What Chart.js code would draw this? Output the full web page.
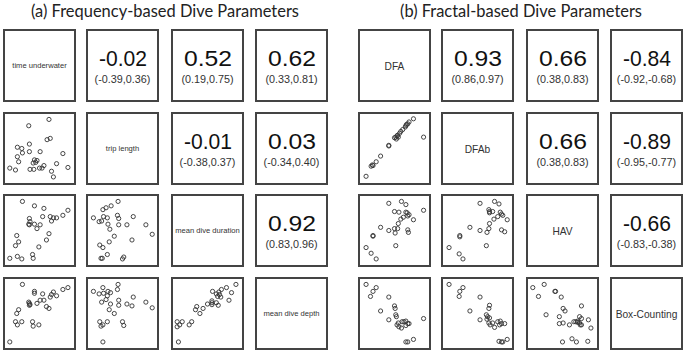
<!DOCTYPE html>
<html>
<head>
<meta charset="utf-8">
<script src="https://cdn.jsdelivr.net/npm/chart.js@4.4.1/dist/chart.umd.min.js"></script>
<style>
  html,body{margin:0;padding:0;background:#fff}
  #page{position:relative;width:685px;height:353px;overflow:hidden}
  .box{position:absolute;width:73px;height:73px;box-sizing:border-box;border:2px solid #444;background:#fff}
  .plot{position:absolute}
  .t{position:absolute;left:50%;white-space:nowrap;line-height:1;transform:translate(-50%,-50%)}
  .title{position:absolute;white-space:nowrap;line-height:1;font-family:Lato,"Open Sans",sans-serif;font-size:16.5px;color:#222;transform:translate(-50%,-50%)}
  .num{font-family:"Liberation Sans",Arial,sans-serif;font-size:22px;color:#111}
  .ci{font-family:"Liberation Sans",Arial,sans-serif;font-size:10.8px;color:#333}
  .lbl{font-family:"Liberation Sans",Arial,sans-serif;color:#333}
</style>
</head>
<body>
<div id="page"></div>
<script>
/* ---- data (axes scaled 0..1 inside each panel) ---- */
const titles = ['(a) Frequency-based Dive Parameters', '(b) Fractal-based Dive Parameters'];
const freqVars = ['time underwater', 'trip length', 'mean dive duration', 'mean dive depth'];
const fracVars = ['DFA', 'DFAb', 'HAV', 'Box-Counting'];

// upper panels, order (1,2) (1,3) (1,4) (2,3) (2,4) (3,4)
const freqR  = ['-0.02', '0.52', '0.62', '-0.01', '0.03', '0.92'];
const freqCI = ['(-0.39,0.36)', '(0.19,0.75)', '(0.33,0.81)', '(-0.38,0.37)', '(-0.34,0.40)', '(0.83,0.96)'];
const fracR  = ['0.93', '0.66', '-0.84', '0.66', '-0.89', '-0.66'];
const fracCI = ['(0.86,0.97)', '(0.38,0.83)', '(-0.92,-0.68)', '(0.38,0.83)', '(-0.95,-0.77)', '(-0.83,-0.38)'];

// lower panels [x, y]
const freq21 = [[0.65,0.96],[0.33,0.86],[0.62,0.64],[0.67,0.66],[0.15,0.52],[0.22,0.50],[0.34,0.57],[0.23,0.43],[0.34,0.45],[0.51,0.45],[0.15,0.37],[0.17,0.29],[0.87,0.42],[0.42,0.32],[0.46,0.31],[0.40,0.27],[0.44,0.28],[0.77,0.26],[0.57,0.23],[0.54,0.19],[0.50,0.19],[0.35,0.17],[0.41,0.17],[0.03,0.19],[0.12,0.16],[0.69,0.14],[0.95,0.20],[0.72,0.05]];
const freq31 = [[0.23,0.96],[0.42,0.89],[0.57,0.85],[0.95,0.82],[0.87,0.74],[0.55,0.72],[0.67,0.72],[0.72,0.70],[0.77,0.70],[0.69,0.65],[0.34,0.69],[0.35,0.64],[0.33,0.60],[0.34,0.59],[0.42,0.60],[0.51,0.59],[0.46,0.53],[0.65,0.45],[0.61,0.35],[0.14,0.42],[0.17,0.32],[0.12,0.26],[0.49,0.24],[0.39,0.12],[0.40,0.06],[0.03,0.06],[0.15,0.09],[0.22,0.05]];
const freq32 = [[0.43,0.96],[0.32,0.89],[0.24,0.86],[0.19,0.83],[0.04,0.70],[0.20,0.72],[0.26,0.70],[0.42,0.74],[0.44,0.69],[0.67,0.72],[0.13,0.64],[0.17,0.65],[0.27,0.60],[0.44,0.59],[0.57,0.59],[0.87,0.59],[0.30,0.52],[0.97,0.44],[0.37,0.41],[0.65,0.35],[0.29,0.32],[0.14,0.27],[0.19,0.23],[0.26,0.12],[0.16,0.06],[0.18,0.06],[0.52,0.08],[0.50,0.05]];
const freq41 = [[0.23,0.96],[0.42,0.85],[0.42,0.82],[0.55,0.81],[0.95,0.91],[0.87,0.88],[0.72,0.84],[0.69,0.80],[0.77,0.78],[0.67,0.76],[0.33,0.68],[0.34,0.66],[0.35,0.64],[0.34,0.63],[0.51,0.71],[0.57,0.71],[0.46,0.66],[0.61,0.61],[0.65,0.58],[0.17,0.56],[0.14,0.50],[0.12,0.37],[0.22,0.37],[0.15,0.32],[0.39,0.37],[0.40,0.30],[0.49,0.32],[0.03,0.05]];
const freq42 = [[0.43,0.96],[0.19,0.91],[0.04,0.85],[0.42,0.88],[0.27,0.85],[0.31,0.83],[0.13,0.81],[0.20,0.82],[0.26,0.78],[0.67,0.76],[0.24,0.72],[0.17,0.68],[0.31,0.65],[0.44,0.71],[0.44,0.63],[0.57,0.65],[0.65,0.62],[0.87,0.68],[0.97,0.59],[0.29,0.56],[0.37,0.50],[0.14,0.37],[0.26,0.37],[0.19,0.32],[0.16,0.30],[0.50,0.37],[0.52,0.31],[0.19,0.05]];
const freq43 = [[0.95,0.96],[0.80,0.91],[0.72,0.88],[0.58,0.85],[0.68,0.84],[0.64,0.81],[0.69,0.80],[0.66,0.77],[0.71,0.76],[0.88,0.83],[0.84,0.71],[0.57,0.70],[0.57,0.67],[0.57,0.64],[0.64,0.67],[0.67,0.63],[0.50,0.65],[0.33,0.61],[0.31,0.56],[0.43,0.58],[0.38,0.50],[0.02,0.37],[0.10,0.37],[0.25,0.37],[0.06,0.32],[0.02,0.29],[0.21,0.32],[0.04,0.05]];

const frac21 = [[0.80,0.97],[0.73,0.92],[0.71,0.89],[0.69,0.88],[0.68,0.86],[0.67,0.84],[0.63,0.80],[0.60,0.77],[0.58,0.74],[0.54,0.70],[0.52,0.68],[0.53,0.65],[0.50,0.67],[0.56,0.68],[0.55,0.71],[0.96,0.68],[0.41,0.55],[0.41,0.54],[0.28,0.38],[0.21,0.29],[0.16,0.23],[0.13,0.22],[0.15,0.24],[0.05,0.06]];
const frac31 = [[0.41,0.93],[0.61,0.96],[0.68,0.91],[0.96,0.82],[0.50,0.80],[0.57,0.79],[0.68,0.79],[0.70,0.78],[0.73,0.75],[0.71,0.73],[0.80,0.67],[0.64,0.71],[0.60,0.68],[0.56,0.61],[0.28,0.55],[0.41,0.50],[0.50,0.53],[0.55,0.53],[0.51,0.46],[0.71,0.51],[0.72,0.47],[0.16,0.42],[0.16,0.41],[0.52,0.26],[0.05,0.23],[0.13,0.14],[0.21,0.05]];
const frac41 = [[0.05,0.96],[0.21,0.91],[0.16,0.85],[0.12,0.77],[0.41,0.76],[0.28,0.54],[0.50,0.62],[0.51,0.58],[0.41,0.40],[0.52,0.48],[0.53,0.45],[0.62,0.37],[0.65,0.37],[0.68,0.38],[0.56,0.35],[0.54,0.32],[0.57,0.29],[0.68,0.31],[0.71,0.34],[0.73,0.34],[0.61,0.27],[0.96,0.42],[0.80,0.09],[0.68,0.05],[0.71,0.05]];
const frac32 = [[0.77,0.96],[0.54,0.93],[0.84,0.92],[0.68,0.83],[0.69,0.80],[0.69,0.78],[0.74,0.80],[0.86,0.79],[0.88,0.76],[0.90,0.74],[0.82,0.72],[0.76,0.68],[0.97,0.67],[0.69,0.61],[0.38,0.55],[0.68,0.53],[0.65,0.47],[0.54,0.50],[0.88,0.51],[0.93,0.48],[0.22,0.42],[0.22,0.40],[0.64,0.26],[0.05,0.23],[0.21,0.13],[0.27,0.05]];
const frac42 = [[0.05,0.96],[0.27,0.91],[0.22,0.85],[0.21,0.77],[0.54,0.76],[0.38,0.54],[0.69,0.63],[0.68,0.58],[0.64,0.48],[0.66,0.45],[0.69,0.43],[0.65,0.41],[0.54,0.40],[0.68,0.35],[0.70,0.32],[0.74,0.35],[0.77,0.28],[0.82,0.37],[0.86,0.38],[0.88,0.34],[0.93,0.34],[0.85,0.32],[0.84,0.06],[0.88,0.05],[0.90,0.05],[0.97,0.09]];
const frac43 = [[0.03,0.91],[0.21,0.96],[0.38,0.85],[0.39,0.85],[0.12,0.77],[0.48,0.76],[0.80,0.62],[0.51,0.58],[0.54,0.54],[0.24,0.48],[0.45,0.45],[0.77,0.45],[0.80,0.42],[0.74,0.38],[0.91,0.40],[0.68,0.37],[0.71,0.37],[0.74,0.36],[0.77,0.35],[0.45,0.34],[0.51,0.35],[0.61,0.32],[0.78,0.32],[0.80,0.32],[0.95,0.27],[0.50,0.05],[0.65,0.10],[0.72,0.05],[0.90,0.06]];

/* ---- layout ---- */
const SIZE = 73;
const rowY = [29, 112, 194, 277];
const groups = [
  { colX:[3,86,171,255],    titleX:165, vars:freqVars, r:freqR, ci:freqCI, lblSize:7.6,  lblY:36.5,
    lower:{ '1,0':freq21, '2,0':freq31, '2,1':freq32, '3,0':freq41, '3,1':freq42, '3,2':freq43 } },
  { colX:[358,441,526,610], titleX:521, vars:fracVars, r:fracR, ci:fracCI, lblSize:10.2, lblY:37.5,
    lower:{ '1,0':frac21, '2,0':frac31, '2,1':frac32, '3,0':frac41, '3,1':frac42, '3,2':frac43 } }
];

const page = document.getElementById('page');

function span(parent, cls, text, top, fit){
  const s = document.createElement('span');
  s.className = 't ' + cls;
  s.textContent = text;
  s.style.top = top + 'px';
  parent.appendChild(s);
  if (fit){
    const w = s.getBoundingClientRect().width;
    s.style.transform = `translate(-50%,-50%) scaleX(${fit/w})`;
  }
  return s;
}

const frame = {
  id:'frame',
  afterDraw(chart){
    const {ctx, width, height} = chart;
    ctx.save();
    ctx.strokeStyle = '#444';
    ctx.lineWidth = 2;
    ctx.strokeRect(1, 1, width-2, height-2);
    ctx.restore();
  }
};

function scatter(x, y, pts){
  const c = document.createElement('canvas');
  c.className = 'plot';
  c.width = SIZE; c.height = SIZE;
  c.style.left = x + 'px'; c.style.top = y + 'px';
  page.appendChild(c);
  new Chart(c, {
    type:'scatter',
    data:{ datasets:[{ data:pts.map(([px,py])=>({x:px, y:py})),
      pointRadius:2.1, pointBorderWidth:0.9, borderColor:'#333', backgroundColor:'rgba(0,0,0,0)', clip:false }]},
    options:{ responsive:false, animation:false, events:[], layout:{padding:0},
      plugins:{ legend:{display:false}, tooltip:{enabled:false} },
      scales:{ x:{type:'linear', min:0, max:1, display:false}, y:{type:'linear', min:0, max:1, display:false} } },
    plugins:[frame]
  });
}

groups.forEach((g, gi) => {
  const t = document.createElement('div');
  t.className = 'title';
  t.textContent = titles[gi];
  t.style.left = g.titleX + 'px';
  t.style.top = '10.5px';
  page.appendChild(t);
  const tw = t.getBoundingClientRect().width;
  t.style.transform = `translate(-50%,-50%) scaleX(${(gi ? 242 : 268)/tw})`;

  let k = 0;
  for (let i=0; i<4; i++){
    for (let j=0; j<4; j++){
      const x = g.colX[j], y = rowY[i];
      if (i > j){ scatter(x, y, g.lower[i+','+j]); continue; }
      const box = document.createElement('div');
      box.className = 'box';
      box.style.left = x + 'px'; box.style.top = y + 'px';
      page.appendChild(box);
      if (i === j){
        const s = span(box, 'lbl', g.vars[i], g.lblY - 2);
        s.style.fontSize = g.lblSize + 'px';
      } else {
        span(box, 'num', g.r[k], 29.5 - 2, 48);
        span(box, 'ci', g.ci[k], 50 - 2);
        k++;
      }
    }
  }
});
</script>
</body>
</html>
